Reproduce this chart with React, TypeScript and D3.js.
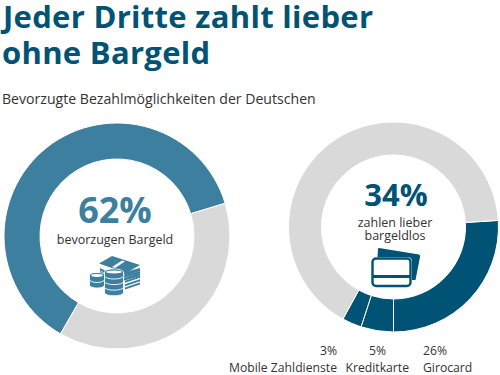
import React from "react";
import * as d3 from "d3";

const leftLabels = ["Bargeld", "Rest"];
const leftValues = [62, 38];
const rightLabels = ["Girocard", "Kreditkarte", "Mobile Zahldienste", "Rest"];
const rightValues = [26, 5, 3, 66];

const DARK = "#005375";
const MID = "#3c7f9e";
const GREY = "#d9d9d9";
const TEXT = "#333333";
const FONT = "'Open Sans', sans-serif";

const deg = (d: number) => (d * Math.PI) / 180;

function Donut({ cx, cy, r0, r1, start, values, colors }: any) {
  const pie = d3.pie<number>().sort(null).startAngle(deg(start)).endAngle(deg(start + 360));
  const arc = d3.arc<d3.PieArcDatum<number>>().innerRadius(r0).outerRadius(r1);
  return (
    <g transform={`translate(${cx},${cy})`}>
      {pie(values).map((d, i) => (
        <path key={i} d={arc(d) || ""} fill={colors[i]} stroke="#fff" strokeWidth={1} />
      ))}
    </g>
  );
}

function Coin({ x, y, w, n }: any) {
  const ry = 3;
  const h = 5.6;
  const out = [];
  for (let i = n - 1; i >= 0; i--) {
    const top = y + i * h;
    out.push(
      <path
        key={i}
        d={`M${x} ${top}A${w / 2} ${ry} 0 0 1 ${x + w} ${top}V${top + 4}A${w / 2} ${ry} 0 0 1 ${x} ${top + 4}Z`}
        fill={MID}
        stroke="#fff"
        strokeWidth={0.9}
      />
    );
    if (i === 0)
      out.push(
        <ellipse key="t" cx={x + w / 2} cy={top} rx={w / 2 - 1} ry={ry - 1} fill="#fff" stroke={MID} strokeWidth={1.2} />
      );
  }
  return <g>{out}</g>;
}

function MoneyIcon() {
  return (
    <g>
      {[9, 6, 3].map((o) => (
        <path key={o} d={`M100 ${265 + o}L114 ${272 + o}L140 ${265 + o}V${267 + o}L114 ${274.5 + o}L100 ${267.5 + o}Z`} fill={MID} />
      ))}
      {[0, 1, 2, 3, 4].map((i) => (
        <path key={i} d={`M125 ${274 + i * 3.4}L140 ${269 + i * 3.4}V${271 + i * 3.4}L125 ${276 + i * 3.4}Z`} fill={MID} />
      ))}
      <path d="M99 263.5L112 256L140 265L126 273Z" fill={MID} />
      <path d="M112 267L122 260.5L125 261.5L115 268Z" fill="#fff" />
      <Coin x={89.5} y={275.5} w={15} n={2} />
      <Coin x={104.5} y={272} w={19} n={4} />
    </g>
  );
}

function CardIcon() {
  return (
    <g>
      <path d="M379 248L419 254.5Q420.5 255 420 257L415.5 280L412 280V262Q412 257 407 257H377.5L378 249Q378 248 379 248Z" fill={DARK} />
      <rect x="372.5" y="258.5" width="38" height="27.5" rx="3.5" fill="#fff" stroke={DARK} strokeWidth={2.4} />
      <rect x="373" y="275" width="37" height="3" fill={DARK} />
    </g>
  );
}

export default function App() {
  const t = (x: number, y: number, s: string, size: number, fill = TEXT, weight = 400, anchor = "start", spacing = 0) => (
    <text x={x} y={y} fontSize={size} fill={fill} fontWeight={weight} textAnchor={anchor as any} letterSpacing={spacing} fontFamily={FONT}>
      {s}
    </text>
  );
  return (
    <svg width={500} height={375} style={{ position: "absolute", left: 0, top: 0, background: "#fff" }} role="img" aria-label={[...leftLabels, ...rightLabels].join(", ")}>
      {t(3, 27.5, "Jeder Dritte zahlt lieber", 31, DARK, 700, "start", 0.3)}
      {t(2, 63.5, "ohne Bargeld", 31, DARK, 700, "start", 0.3)}
      {t(2, 104, "Bevorzugte Bezahlmöglichkeiten der Deutschen", 14.1)}

      <Donut cx={117} cy={236} r0={77} r1={113} start={-150} values={leftValues} colors={[MID, GREY]} />
      <Donut cx={393.5} cy={227} r0={72} r1={105} start={86.4} values={rightValues} colors={[DARK, DARK, DARK, GREY]} />

      {t(115, 223, "62%", 36, MID, 700, "middle")}
      {t(115, 244, "bevorzugen Bargeld", 12.5, TEXT, 400, "middle")}
      <MoneyIcon />

      {t(396, 206, "34%", 31, DARK, 700, "middle")}
      {t(395, 226.5, "zahlen lieber", 12.5, TEXT, 400, "middle")}
      {t(395, 239.5, "bargeldlos", 12.5, TEXT, 400, "middle")}
      <CardIcon />

      {t(337, 355, "3%", 12.2, TEXT, 400, "end")}
      {t(337, 372, "Mobile Zahldienste", 12.2, TEXT, 400, "end")}
      {t(377.5, 355, "5%", 12.2, TEXT, 400, "middle")}
      {t(409, 372, "Kreditkarte", 12.2, TEXT, 400, "end")}
      {t(423, 355, "26%", 12.2)}
      {t(423, 372, "Girocard", 12.2)}
    </svg>
  );
}
